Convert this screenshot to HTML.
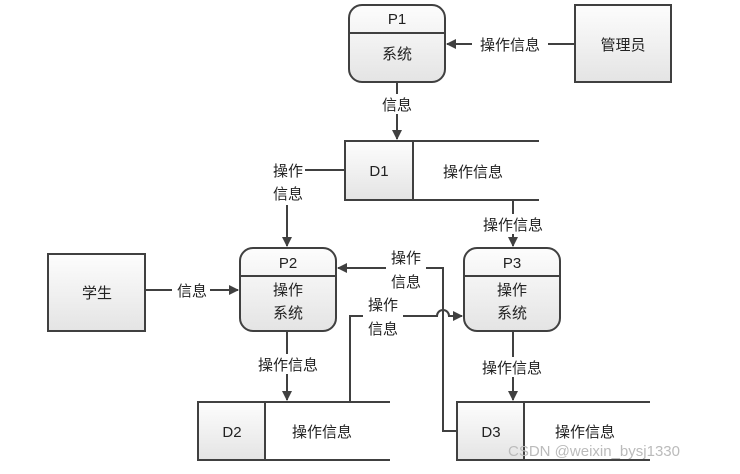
<!DOCTYPE html>
<html><head><meta charset="utf-8"><style>
body{margin:0;background:#fff}
text{font-family:"Liberation Sans","Noto Sans CJK SC",sans-serif;font-size:15px;fill:#222}
</style></head><body>
<svg width="740" height="469" viewBox="0 0 740 469" xmlns="http://www.w3.org/2000/svg">
<defs>
<linearGradient id="g" x1="0" y1="0" x2="0" y2="1"><stop offset="0" stop-color="#fdfdfd"/><stop offset="1" stop-color="#e4e4e4"/></linearGradient>
<marker id="a" markerWidth="10" markerHeight="10" refX="9" refY="5" orient="auto" markerUnits="userSpaceOnUse"><path d="M0,0 L10,5 L0,10 z" fill="#404040"/></marker>
</defs>
<g stroke="#404040" stroke-width="2" fill="none">
<!-- P1 -->
<rect x="349" y="5" width="96" height="77" rx="13" fill="url(#g)"/>
<line x1="349" y1="33" x2="445" y2="33"/>
<!-- admin -->
<rect x="575" y="5" width="96" height="77" fill="url(#g)"/>
<!-- P2 P3 -->
<rect x="240" y="248" width="96" height="83" rx="13" fill="url(#g)"/>
<line x1="240" y1="276" x2="336" y2="276"/>
<rect x="464" y="248" width="96" height="83" rx="13" fill="url(#g)"/>
<line x1="464" y1="276" x2="560" y2="276"/>
<!-- student -->
<rect x="48" y="254" width="97" height="77" fill="url(#g)"/>
<!-- D1 -->
<rect x="345" y="141" width="68" height="59" fill="url(#g)"/>
<path d="M413 141H539M413 200H539"/>
<!-- D2 -->
<rect x="198" y="402" width="67" height="58" fill="url(#g)"/>
<path d="M265 402H390M265 460H390"/>
<!-- D3 -->
<rect x="457" y="402" width="67" height="58" fill="url(#g)"/>
<path d="M524 402H650M524 460H650"/>
<!-- connectors -->
<path d="M575 44H447" marker-end="url(#a)"/>
<path d="M397 82V139" marker-end="url(#a)"/>
<path d="M345 170H305"/>
<path d="M287 205V246" marker-end="url(#a)"/>
<path d="M513 200V246" marker-end="url(#a)"/>
<path d="M145 290H238" marker-end="url(#a)"/>
<path d="M287 331V400" marker-end="url(#a)"/>
<path d="M513 331V400" marker-end="url(#a)"/>
<path d="M457 431H443V268H338" marker-end="url(#a)"/>
<path d="M350 402V316H437a6 6 0 0 1 12 0H462" marker-end="url(#a)"/>
</g>
<g text-anchor="middle">
<rect x="472" y="34" width="76" height="20" fill="#fff"/>
<text x="510" y="50">操作信息</text>
<text x="397" y="24">P1</text>
<text x="397" y="59">系统</text>
<text x="623" y="50">管理员</text>
<rect x="378" y="94" width="38" height="20" fill="#fff"/>
<text x="397" y="110">信息</text>
<text x="379" y="176">D1</text>
<text x="473" y="177">操作信息</text>
<text x="288" y="176">操作</text>
<text x="288" y="199">信息</text>
<rect x="476" y="214" width="74" height="20" fill="#fff"/>
<text x="513" y="230">操作信息</text>
<text x="97" y="298">学生</text>
<rect x="172" y="280" width="38" height="20" fill="#fff"/>
<text x="192" y="296">信息</text>
<text x="288" y="268">P2</text>
<text x="288" y="295">操作</text>
<text x="288" y="318">系统</text>
<text x="512" y="268">P3</text>
<text x="512" y="295">操作</text>
<text x="512" y="318">系统</text>
<rect x="386" y="247" width="40" height="44" fill="#fff"/>
<text x="406" y="263">操作</text>
<text x="406" y="287">信息</text>
<rect x="363" y="294" width="40" height="44" fill="#fff"/>
<text x="383" y="310">操作</text>
<text x="383" y="334">信息</text>
<rect x="250" y="354" width="76" height="20" fill="#fff"/>
<text x="288" y="370">操作信息</text>
<rect x="474" y="357" width="76" height="20" fill="#fff"/>
<text x="512" y="373">操作信息</text>
<text x="232" y="437">D2</text>
<text x="322" y="437">操作信息</text>
<text x="491" y="437">D3</text>
<text x="585" y="437">操作信息</text>
</g>
<text x="508" y="456" style="font-size:15px;fill:#bbb">CSDN @weixin_bysj1330</text>
</svg>
</body></html>
